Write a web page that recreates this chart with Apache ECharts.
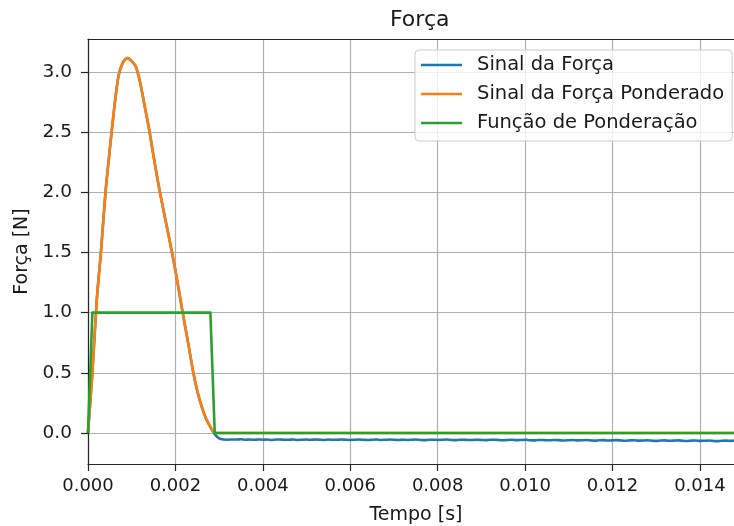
<!DOCTYPE html>
<html>
<head>
<meta charset="utf-8">
<script src="https://cdn.jsdelivr.net/npm/echarts@6/dist/echarts.min.js"></script>
<style>
  html, body { margin: 0; padding: 0; background: #fff; }
  #chart { width: 734px; height: 526px; }
</style>
</head>
<body>
<div id="chart"></div>
<script>
// ---- data ----
const sampleStep = 0.0001; // s, sampling interval of the signals
const xTicks = [0, 0.002, 0.004, 0.006, 0.008, 0.010, 0.012, 0.014];
const yTicks = [0, 0.5, 1.0, 1.5, 2.0, 2.5, 3.0];

// Force signal (t = 0 .. 0.0149 s)
const forceSignal = [
  0.00, 0.50, 1.10, 1.52, 2.00, 2.36, 2.70, 2.97, 3.08, 3.115,
  3.09, 3.04, 2.90, 2.71, 2.52, 2.30, 2.09, 1.90, 1.72, 1.54,
  1.35, 1.14, 0.93, 0.73, 0.52, 0.35, 0.22, 0.12, 0.05, -0.01,
  -0.045, -0.055, -0.056, -0.054, -0.055, -0.052, -0.056, -0.055, -0.057, -0.054,
  -0.056, -0.055, -0.058, -0.055, -0.054, -0.057, -0.056, -0.055, -0.058, -0.056,
  -0.055, -0.057, -0.054, -0.056, -0.058, -0.055, -0.057, -0.056, -0.054, -0.057,
  -0.058, -0.056, -0.055, -0.057, -0.059, -0.056, -0.055, -0.058, -0.057, -0.055,
  -0.057, -0.059, -0.056, -0.058, -0.057, -0.055, -0.058, -0.060, -0.057, -0.056,
  -0.058, -0.057, -0.055, -0.058, -0.060, -0.057, -0.056, -0.059, -0.058, -0.056,
  -0.058, -0.060, -0.057, -0.056, -0.059, -0.061, -0.058, -0.057, -0.060, -0.059,
  -0.057, -0.060, -0.062, -0.059, -0.058, -0.061, -0.060, -0.058, -0.061, -0.063,
  -0.060, -0.059, -0.062, -0.061, -0.059, -0.062, -0.064, -0.061, -0.060, -0.063,
  -0.062, -0.060, -0.063, -0.065, -0.062, -0.061, -0.064, -0.063, -0.061, -0.064,
  -0.066, -0.063, -0.062, -0.065, -0.064, -0.062, -0.065, -0.067, -0.064, -0.063,
  -0.066, -0.065, -0.063, -0.066, -0.068, -0.065, -0.064, -0.066, -0.063, -0.061
];

// Weighted force signal
const weightedSignal = [
  0.00, 0.50, 1.10, 1.52, 2.00, 2.36, 2.70, 2.97, 3.08, 3.115,
  3.09, 3.04, 2.90, 2.71, 2.52, 2.30, 2.09, 1.90, 1.72, 1.54,
  1.35, 1.14, 0.93, 0.73, 0.52, 0.35, 0.22, 0.12, 0.05, 0,
  0, 0, 0, 0, 0, 0, 0, 0, 0, 0,
  0, 0, 0, 0, 0, 0, 0, 0, 0, 0,
  0, 0, 0, 0, 0, 0, 0, 0, 0, 0,
  0, 0, 0, 0, 0, 0, 0, 0, 0, 0,
  0, 0, 0, 0, 0, 0, 0, 0, 0, 0,
  0, 0, 0, 0, 0, 0, 0, 0, 0, 0,
  0, 0, 0, 0, 0, 0, 0, 0, 0, 0,
  0, 0, 0, 0, 0, 0, 0, 0, 0, 0,
  0, 0, 0, 0, 0, 0, 0, 0, 0, 0,
  0, 0, 0, 0, 0, 0, 0, 0, 0, 0,
  0, 0, 0, 0, 0, 0, 0, 0, 0, 0,
  0, 0, 0, 0, 0, 0, 0, 0, 0, 0
];

// Weighting function
const weightingWindow = [
  0, 1, 1, 1, 1, 1, 1, 1, 1, 1,
  1, 1, 1, 1, 1, 1, 1, 1, 1, 1,
  1, 1, 1, 1, 1, 1, 1, 1, 1, 0,
  0, 0, 0, 0, 0, 0, 0, 0, 0, 0,
  0, 0, 0, 0, 0, 0, 0, 0, 0, 0,
  0, 0, 0, 0, 0, 0, 0, 0, 0, 0,
  0, 0, 0, 0, 0, 0, 0, 0, 0, 0,
  0, 0, 0, 0, 0, 0, 0, 0, 0, 0,
  0, 0, 0, 0, 0, 0, 0, 0, 0, 0,
  0, 0, 0, 0, 0, 0, 0, 0, 0, 0,
  0, 0, 0, 0, 0, 0, 0, 0, 0, 0,
  0, 0, 0, 0, 0, 0, 0, 0, 0, 0,
  0, 0, 0, 0, 0, 0, 0, 0, 0, 0,
  0, 0, 0, 0, 0, 0, 0, 0, 0, 0,
  0, 0, 0, 0, 0, 0, 0, 0, 0, 0
];

const seriesNames = ['Sinal da Força', 'Sinal da Força Ponderado', 'Função de Ponderação'];

// ---- chart ----
const toPairs = arr => arr.map((v, i) => [+(i * sampleStep).toFixed(5), v]);
const FONT = 'DejaVu Sans';
const INK = '#1a1a1a';
const SPINE = '#262626';
const X_MAX = 0.01478;

const chart = echarts.init(document.getElementById('chart'), null, { renderer: 'canvas' });

const lineSeries = (name, data, color, smooth) => ({
  name, type: 'line', data: toPairs(data),
  xAxisIndex: 0, yAxisIndex: 0,
  symbol: 'none', showSymbol: false, animation: false,
  smooth: smooth,
  lineStyle: { color, width: 2.6, cap: 'butt', join: 'round' },
  itemStyle: { color }
});

chart.setOption({
  animation: false,
  backgroundColor: '#ffffff',
  textStyle: { fontFamily: FONT },
  title: {
    text: 'Força',
    left: 385, top: 4,
    textStyle: { fontFamily: FONT, fontSize: 22, fontWeight: 'normal', color: INK }
  },
  legend: {
    orient: 'vertical',
    left: 415, top: 50,
    padding: [5, 8, 8, 6],
    itemGap: 9,
    itemWidth: 41, itemHeight: 2.6,
    icon: 'rect',
    backgroundColor: 'rgba(255,255,255,0.8)',
    borderColor: '#cccccc', borderWidth: 1, borderRadius: 4,
    textStyle: { fontFamily: FONT, fontSize: 19.5, color: INK, lineHeight: 20, padding: [0, 0, 0, 10] },
    data: seriesNames
  },
  grid: {
    left: 88, top: 39, width: 646, height: 425,
    show: false,
    containLabel: false,
    outerBoundsMode: 'none'
  },
  xAxis: [{
    type: 'value', min: 0, max: X_MAX,
    name: 'Tempo [s]', nameLocation: 'middle', nameGap: 42,
    nameTextStyle: { fontFamily: FONT, fontSize: 19, color: INK, padding: [0, 0, 0, 10] },
    axisLine: { show: true, onZero: false, lineStyle: { color: SPINE, width: 1.2 } },
    axisTick: { show: true, length: 7, inside: false, customValues: xTicks, lineStyle: { color: SPINE, width: 1.2 } },
    axisLabel: { customValues: xTicks, margin: 13, fontFamily: FONT, fontSize: 18, color: INK,
                 formatter: v => v.toFixed(3) },
    splitLine: { show: true, customValues: xTicks, lineStyle: { color: '#b0b0b0', width: 1.2 } }
  }, {
    type: 'value', min: 0, max: X_MAX, position: 'top',
    axisLine: { show: true, onZero: false, lineStyle: { color: SPINE, width: 1.2 } },
    axisTick: { show: false }, axisLabel: { show: false }, splitLine: { show: false }
  }],
  yAxis: {
    type: 'value', min: -0.258, max: 3.274,
    name: 'Força [N]', nameLocation: 'middle', nameGap: 51, nameRotate: 90,
    nameTextStyle: { fontFamily: FONT, fontSize: 19, color: INK },
    axisLine: { show: true, onZero: false, lineStyle: { color: SPINE, width: 1.2 } },
    axisTick: { show: true, length: 7, inside: false, customValues: yTicks, lineStyle: { color: SPINE, width: 1.2 } },
    axisLabel: { customValues: yTicks, margin: 16, fontFamily: FONT, fontSize: 18.5, color: INK,
                 formatter: v => v.toFixed(1) },
    splitLine: { show: true, customValues: yTicks, lineStyle: { color: '#b0b0b0', width: 1.2 } }
  },
  series: [
    lineSeries(seriesNames[0], forceSignal, '#1f77b4', 0.25),
    lineSeries(seriesNames[1], weightedSignal, '#ff7f0e', 0.25),
    lineSeries(seriesNames[2], weightingWindow, '#2ca02c', false)
  ]
});
</script>
</body>
</html>
